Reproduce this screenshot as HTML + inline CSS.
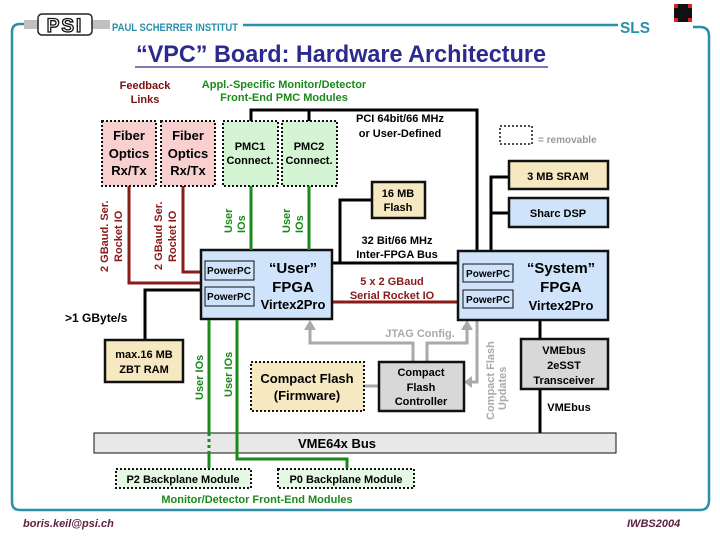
<!DOCTYPE html>
<html><head><meta charset="utf-8"><style>
html,body{margin:0;padding:0;background:#fff;width:720px;height:540px;overflow:hidden}
svg{display:block}
text{font-family:"Liberation Sans",sans-serif;font-weight:bold}
</style></head><body>
<svg width="720" height="540" viewBox="0 0 720 540" xmlns="http://www.w3.org/2000/svg">
<!-- frame -->
<g fill="none" stroke="#2a8fa8" stroke-width="2.5">
<path d="M26,24 L20,24 Q12,24 12,32 L12,502 Q12,510 20,510 L700,510 Q709,510 709,500 L709,36 Q709,27 700,27 L693,27"/>
<line x1="243" y1="25" x2="618" y2="25"/>
</g>
<rect x="24" y="20" width="16" height="9" fill="#c0c0c0"/>
<rect x="90" y="20" width="20" height="9" fill="#c0c0c0"/>
<rect x="38" y="14" width="54" height="21" rx="4" fill="#fff" stroke="#222" stroke-width="1.5"/>
<text x="65" y="32" font-size="19" text-anchor="middle" fill="#fff" stroke="#111" stroke-width="1.3" letter-spacing="2">PSI</text>
<text x="112" y="31" font-size="11" fill="#2a8fa8" textLength="126" lengthAdjust="spacingAndGlyphs">PAUL SCHERRER INSTITUT</text>
<text x="620" y="33" font-size="16" fill="#2a8fa8" font-family="Liberation Serif" textLength="30" lengthAdjust="spacingAndGlyphs">SLS</text>
<rect x="674" y="4" width="18" height="18" fill="#111"/>
<rect x="674" y="4" width="4" height="4" fill="#d22"/><rect x="688" y="4" width="4" height="4" fill="#d22"/>
<rect x="674" y="18" width="4" height="4" fill="#d22"/><rect x="688" y="18" width="4" height="4" fill="#d22"/>
<!-- title -->
<text x="341" y="62" font-size="24" text-anchor="middle" fill="#2b2b8f" font-weight="normal" textLength="410" lengthAdjust="spacingAndGlyphs">“VPC” Board: Hardware Architecture</text>
<line x1="135" y1="67" x2="548" y2="67" stroke="#2b2b8f" stroke-width="1.2"/>
<text x="145" y="89" font-size="11" text-anchor="middle" fill="#7a1010">Feedback</text>
<text x="145" y="103" font-size="11" text-anchor="middle" fill="#7a1010">Links</text>
<text x="284" y="88" font-size="11" text-anchor="middle" fill="#1a8a1a">Appl.-Specific Monitor/Detector</text>
<text x="284" y="101" font-size="11" text-anchor="middle" fill="#1a8a1a">Front-End PMC Modules</text>
<!-- PCI box lines -->
<g stroke="#000" stroke-width="3" fill="none">
<path d="M251,122 L251,110 L477,110 L477,251"/>
<line x1="309" y1="110" x2="309" y2="122"/>
<path d="M491,251 L491,177 L509,177"/>
<line x1="491" y1="213" x2="509" y2="213"/>
<line x1="332" y1="263" x2="458" y2="263"/>
<path d="M340,263 L340,200 L372,200"/>
<path d="M201,290 L145,290 L145,340"/>
<line x1="540" y1="320" x2="540" y2="339"/>
<line x1="540" y1="389" x2="540" y2="433"/>
</g>
<text x="400" y="122" font-size="11" text-anchor="middle">PCI 64bit/66 MHz</text>
<text x="400" y="137" font-size="11" text-anchor="middle">or User-Defined</text>
<!-- darkred -->
<g stroke="#8b1a1a" stroke-width="3" fill="none">
<path d="M129,186 L129,283 L201,283"/>
<path d="M183,186 L183,272 L201,272"/>
<line x1="332" y1="302" x2="458" y2="302"/>
</g>
<!-- gray arrows -->
<g stroke="#aaa" stroke-width="3" fill="none">
<path d="M413,362 L413,343 L310,343 L310,328"/>
<path d="M427,362 L427,343 L467,343 L467,328"/>
<path d="M477,320 L477,382 L470,382"/>
<line x1="364" y1="386" x2="379" y2="386"/>
</g>
<g fill="#aaa">
<polygon points="304,330 316,330 310,320"/>
<polygon points="461,330 473,330 467,320"/>
<polygon points="472,376 472,388 464,382"/>
</g>
<text x="420" y="337" font-size="11" text-anchor="middle" fill="#aaa" font-weight="normal">JTAG Config.</text>
<text transform="translate(494,420) rotate(-90)" font-size="11" fill="#aaa">Compact Flash</text>
<text transform="translate(506,410) rotate(-90)" font-size="11" fill="#aaa">Updates</text>
<!-- boxes -->
<g stroke="#111" stroke-width="2" stroke-dasharray="2,2">
<rect x="102" y="121" width="54" height="65" fill="#f8d0d0"/>
<rect x="161" y="121" width="54" height="65" fill="#f8d0d0"/>
<rect x="223" y="121" width="55" height="65" fill="#d4f4d4"/>
<rect x="282" y="121" width="55" height="65" fill="#d4f4d4"/>
<rect x="500" y="126" width="32" height="18" fill="#fff" stroke-width="1.5"/>
<rect x="251" y="362" width="113" height="49" fill="#f6e8c0"/>
<rect x="116" y="469" width="135" height="19" fill="#e4f8e4"/>
<rect x="278" y="469" width="136" height="19" fill="#e4f8e4"/>
</g>
<g stroke="#111" stroke-width="2.5">
<rect x="509" y="161" width="99" height="28" fill="#f6e8c0"/>
<rect x="509" y="198" width="99" height="29" fill="#cfe4fa"/>
<rect x="372" y="182" width="53" height="36" fill="#f6e8c0"/>
<rect x="201" y="250" width="131" height="69" fill="#cfe4fa"/>
<rect x="458" y="251" width="150" height="69" fill="#cfe4fa"/>
<rect x="521" y="339" width="87" height="50" fill="#d8d8d8"/>
<rect x="379" y="362" width="85" height="49" fill="#d8d8d8"/>
<rect x="105" y="340" width="78" height="42" fill="#f6e8c0"/>
</g>
<rect x="94" y="433" width="522" height="20" fill="#e8e8e8" stroke="#111" stroke-width="1"/>
<!-- green -->
<g stroke="#1a8a1a" stroke-width="3" fill="none">
<line x1="251" y1="186" x2="251" y2="250"/>
<line x1="309" y1="186" x2="309" y2="250"/>
<line x1="209" y1="320" x2="209" y2="433"/>
<line x1="209" y1="453" x2="209" y2="468"/>
<path d="M237,320 L237,459 L347,459 L347,468"/>
</g>
<line x1="209" y1="433" x2="209" y2="453" stroke="#1a8a1a" stroke-width="3" stroke-dasharray="3,3"/>
<g stroke="#111" stroke-width="1" fill="none">
<rect x="205" y="261" width="49" height="19"/><rect x="205" y="287" width="49" height="19"/>
<rect x="463" y="264" width="50" height="18"/><rect x="463" y="290" width="50" height="18"/>
</g>
<!-- box text -->
<g font-size="13" text-anchor="middle">
<text x="129" y="140">Fiber</text><text x="129" y="158">Optics</text><text x="129" y="175">Rx/Tx</text>
<text x="188" y="140">Fiber</text><text x="188" y="158">Optics</text><text x="188" y="175">Rx/Tx</text>
</g>
<g font-size="11" text-anchor="middle">
<text x="250" y="150">PMC1</text><text x="250" y="164">Connect.</text>
<text x="309" y="150">PMC2</text><text x="309" y="164">Connect.</text>
<text x="558" y="180">3 MB SRAM</text>
<text x="558" y="217">Sharc DSP</text>
<text x="398" y="197">16 MB</text><text x="398" y="211">Flash</text>
<text x="397" y="244">32 Bit/66 MHz</text><text x="397" y="258">Inter-FPGA Bus</text>
<text x="392" y="285" fill="#8b1a1a">5 x 2 GBaud</text><text x="392" y="299" fill="#8b1a1a">Serial Rocket IO</text>
<text x="564" y="354">VMEbus</text><text x="564" y="369">2eSST</text><text x="564" y="384">Transceiver</text>
<text x="421" y="376">Compact</text><text x="421" y="391">Flash</text><text x="421" y="405">Controller</text>
<text x="144" y="358">max.16 MB</text><text x="144" y="373">ZBT RAM</text>
<text x="569" y="411">VMEbus</text>
<text x="183" y="483">P2 Backplane Module</text>
<text x="346" y="483">P0 Backplane Module</text>
<text x="257" y="503" fill="#1a8a1a">Monitor/Detector Front-End Modules</text>
</g>
<g font-size="10" text-anchor="middle">
<text x="229" y="274">PowerPC</text><text x="229" y="300">PowerPC</text>
<text x="488" y="277">PowerPC</text><text x="488" y="303">PowerPC</text>
</g>
<g font-size="15" text-anchor="middle" font-weight="normal">
<text x="293" y="273">“User”</text><text x="293" y="292">FPGA</text>
<text x="293" y="309" font-size="13" font-weight="bold">Virtex2Pro</text>
<text x="561" y="273">“System”</text><text x="561" y="292">FPGA</text>
<text x="561" y="310" font-size="13" font-weight="bold">Virtex2Pro</text>
<text x="307" y="383" font-size="13">Compact Flash</text><text x="307" y="400" font-size="13">(Firmware)</text>
</g>
<text x="337" y="448" font-size="13" text-anchor="middle">VME64x Bus</text>
<text x="65" y="322" font-size="12">&gt;1 GByte/s</text>
<text x="538" y="143" font-size="10" fill="#999" font-weight="normal">= removable</text>
<!-- rotated labels -->
<g font-size="11" fill="#8b1a1a">
<text transform="translate(108,272) rotate(-90)">2 GBaud. Ser.</text>
<text transform="translate(122,262) rotate(-90)">Rocket IO</text>
<text transform="translate(162,270) rotate(-90)">2 GBaud Ser.</text>
<text transform="translate(176,262) rotate(-90)">Rocket IO</text>
</g>
<g font-size="11" fill="#1a8a1a">
<text transform="translate(232,233) rotate(-90)">User</text>
<text transform="translate(245,233) rotate(-90)">IOs</text>
<text transform="translate(290,233) rotate(-90)">User</text>
<text transform="translate(303,233) rotate(-90)">IOs</text>
<text transform="translate(203,400) rotate(-90)">User IOs</text>
<text transform="translate(232,397) rotate(-90)">User IOs</text>
</g>
<text x="23" y="527" font-size="11" fill="#602040" font-style="italic" font-weight="normal">boris.keil@psi.ch</text>
<text x="627" y="527" font-size="11" fill="#602040" font-style="italic" font-weight="normal">IWBS2004</text>
</svg>
</body></html>
